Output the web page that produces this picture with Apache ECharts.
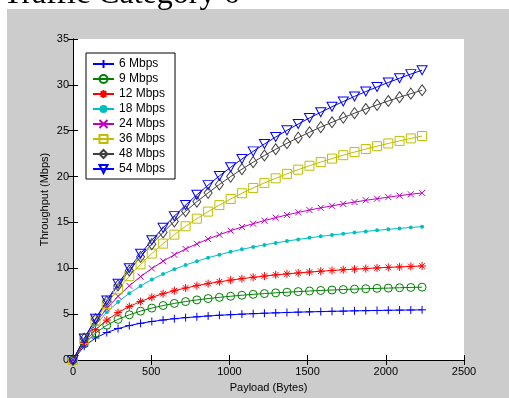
<!DOCTYPE html>
<html>
<head>
<meta charset="utf-8">
<script src="https://cdn.jsdelivr.net/npm/echarts@6/dist/echarts.min.js"></script>
<style>
html,body{margin:0;padding:0;background:#fff;}
#bg{position:absolute;left:7px;top:9px;width:502px;height:389px;background:#cccccc;}
#chart{position:absolute;left:0;top:0;width:509px;height:398px;}
</style>
</head>
<body>
<div id="bg"></div>
<div id="chart"></div>
<script>
const titleText = 'Traffic Category 6';
const xName = 'Payload (Bytes)';
const yName = 'Throughput (Mbps)';
const xTicks = [0, 500, 1000, 1500, 2000, 2500];
const yTicks = [0, 5, 10, 15, 20, 25, 30, 35];
const payload = [0,72,144,216,288,360,432,504,576,648,720,792,864,936,1008,1080,1152,1224,1296,1368,1440,1512,1584,1656,1728,1800,1872,1944,2016,2088,2160,2232];
const seriesNames = ['6 Mbps','9 Mbps','12 Mbps','18 Mbps','24 Mbps','36 Mbps','48 Mbps','54 Mbps'];
const r6  = [0,1.50,2.40,3.00,3.43,3.75,4.00,4.20,4.36,4.50,4.62,4.71,4.80,4.88,4.94,5.00,5.05,5.10,5.14,5.18,5.22,5.25,5.28,5.31,5.33,5.36,5.38,5.40,5.42,5.44,5.45,5.47];
const r9  = [0,1.76,2.94,3.79,4.43,4.93,5.33,5.66,5.94,6.17,6.37,6.55,6.70,6.83,6.95,7.06,7.16,7.24,7.32,7.39,7.46,7.52,7.58,7.63,7.68,7.73,7.77,7.81,7.84,7.88,7.91,7.94];
const r12 = [0,1.91,3.30,4.35,5.17,5.83,6.38,6.84,7.23,7.56,7.85,8.11,8.33,8.53,8.71,8.87,9.02,9.15,9.28,9.39,9.49,9.59,9.68,9.76,9.84,9.91,9.97,10.04,10.10,10.15,10.20,10.25];
const r18 = [0,2.15,3.84,5.20,6.33,7.27,8.07,8.77,9.37,9.89,10.36,10.77,11.15,11.48,11.79,12.07,12.32,12.55,12.77,12.97,13.15,13.32,13.48,13.63,13.77,13.90,14.02,14.14,14.25,14.35,14.45,14.54];
const r24 = [0,2.22,4.06,5.61,6.94,8.09,9.09,9.98,10.77,11.47,12.10,12.67,13.19,13.66,14.10,14.50,14.86,15.20,15.52,15.82,16.09,16.35,16.59,16.81,17.02,17.22,17.41,17.59,17.76,17.92,18.07,18.22];
const r36 = [0,2.29,4.31,6.10,7.70,9.14,10.43,11.61,12.69,13.67,14.58,15.41,16.18,16.89,17.56,18.18,18.76,19.31,19.81,20.30,20.75,21.18,21.58,21.96,22.33,22.67,23.00,23.31,23.61,23.89,24.16,24.42];
const r48 = [0,2.33,4.44,6.37,8.14,9.76,11.25,12.63,13.91,15.11,16.22,17.26,18.23,19.14,20.00,20.81,21.57,22.30,22.98,23.63,24.24,24.83,25.39,25.92,26.43,26.91,27.37,27.82,28.24,28.65,29.04,29.41];
const r54 = [0,2.35,4.50,6.49,8.32,10.01,11.58,13.05,14.41,15.69,16.89,18.01,19.07,20.07,21.01,21.91,22.75,23.55,24.31,25.04,25.73,26.39,27.01,27.62,28.18,28.74,29.27,29.77,30.26,30.72,31.17,31.60];
const allValues = [r6, r9, r12, r18, r24, r36, r48, r54];

const styles = [
  {color:'#0000ff', symbol:'path://M0,5L10,5M5,0L5,10', size:8, fill:'#0000ff', bw:1},
  {color:'#008000', symbol:'circle', size:8, fill:'rgba(0,0,0,0)', bw:1},
  {color:'#ff0000', symbol:'path://M0,5L10,5M5,0L5,10M1.5,1.5L8.5,8.5M8.5,1.5L1.5,8.5', size:8, fill:'#ff0000', bw:1},
  {color:'#00bfbf', symbol:'circle', size:4, fill:'#00bfbf', bw:0},
  {color:'#bf00bf', symbol:'path://M0,0L10,10M10,0L0,10', size:6, fill:'#bf00bf', bw:1},
  {color:'#bfbf00', symbol:'rect', size:9, fill:'rgba(0,0,0,0)', bw:1},
  {color:'#404040', symbol:'diamond', size:[8,11], fill:'rgba(0,0,0,0)', bw:1},
  {color:'#0000ff', symbol:'path://M0,0L10,0L5,8.6Z', size:[10,9], fill:'rgba(0,0,0,0)', bw:1}
];

const series = seriesNames.map((name, i) => ({
  name: name,
  type: 'line',
  xAxisIndex: 0,
  yAxisIndex: 0,
  data: payload.map((p, k) => [p, allValues[i][k]]),
  symbol: styles[i].symbol,
  symbolSize: styles[i].size,
  showAllSymbol: true,
  lineStyle: {color: styles[i].color, width: 1},
  itemStyle: {color: styles[i].fill, borderColor: styles[i].color, borderWidth: styles[i].bw},
  emphasis: {disabled: true},
  animation: false
}));

const chart = echarts.init(document.getElementById('chart'), null, {renderer: 'canvas'});
function axisBase() {
  return {
    axisLine: {show: true, lineStyle: {color: '#000', width: 1}},
    axisTick: {show: true, inside: true, length: 5, lineStyle: {color: '#000', width: 1}},
    splitLine: {show: false}
  };
}
chart.setOption({
  animation: false,
  backgroundColor: 'transparent',
  title: {
    text: titleText, left: 3, top: -21, padding: 0,
    textStyle: {fontFamily: 'Liberation Serif', fontSize: 32, fontWeight: 'normal', color: '#000'}
  },
  grid: {left: 73, right: 45, top: 39, bottom: 38, show: true, backgroundColor: '#fff', borderWidth: 0},
  legend: {
    data: seriesNames,
    orient: 'vertical',
    left: 86, top: 53,
    itemWidth: 21, itemHeight: 10, itemGap: 3,
    padding: [5, 10, 4, 6],
    backgroundColor: '#fff',
    borderColor: '#000', borderWidth: 1, borderRadius: 0,
    textStyle: {fontFamily: 'Liberation Sans', fontSize: 12, color: '#000'},
    selectedMode: false
  },
  xAxis: [
    Object.assign(axisBase(), {
      type: 'value', min: 0, max: 2500, interval: 500, position: 'bottom',
      name: xName, nameLocation: 'middle', nameGap: 22, nameMoveOverlap: false,
      nameTextStyle: {fontFamily: 'Liberation Sans', fontSize: 11, color: '#000'},
      axisLabel: {fontFamily: 'Liberation Sans', fontSize: 11, color: '#000', margin: 6,
        formatter: v => xTicks.includes(v) ? String(v) : ''}
    }),
    Object.assign(axisBase(), {
      type: 'value', min: 0, max: 2500, interval: 500, position: 'top',
      axisLabel: {show: false}
    })
  ],
  yAxis: [
    Object.assign(axisBase(), {
      type: 'value', min: 0, max: 35, interval: 5, position: 'left',
      name: yName, nameLocation: 'middle', nameGap: 23, nameRotate: 90, nameMoveOverlap: false,
      nameTextStyle: {fontFamily: 'Liberation Sans', fontSize: 11, color: '#000'},
      axisLabel: {fontFamily: 'Liberation Sans', fontSize: 11, color: '#000', margin: 4,
        formatter: v => yTicks.includes(v) ? String(v) : ''}
    }),
    Object.assign(axisBase(), {
      type: 'value', min: 0, max: 35, interval: 5, position: 'right',
      axisLabel: {show: false}
    })
  ],
  series: series
});
</script>
</body>
</html>
